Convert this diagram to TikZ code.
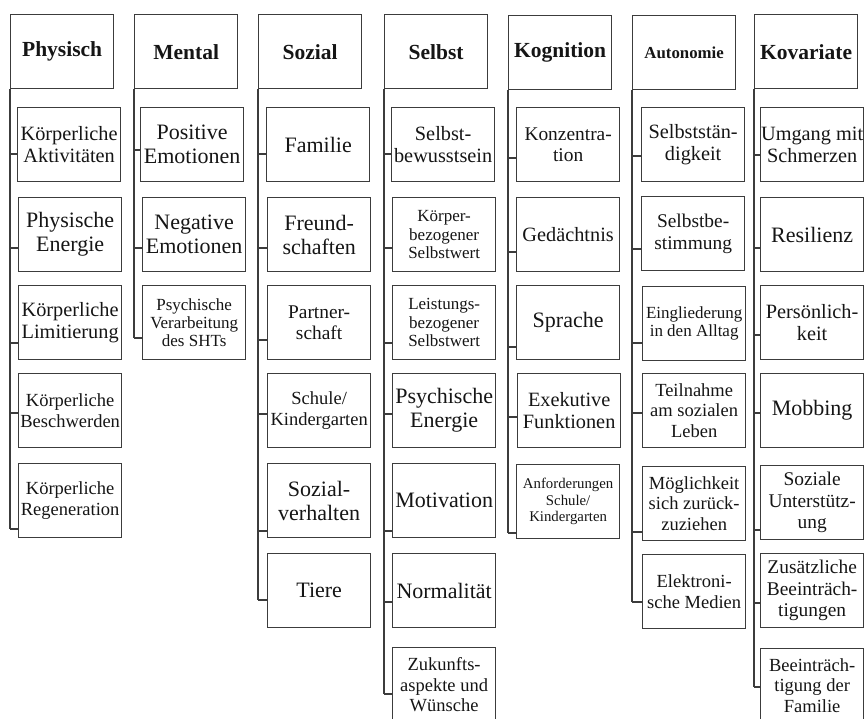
\documentclass[tikz,border=0pt]{standalone}
\usepackage{fontspec}
\setmainfont{Liberation Serif}
\definecolor{linecol}{HTML}{3C3C3C}
\definecolor{txt}{HTML}{151515}

% place a sub-box below a column header and connect it to the column trunk
% #1 name, #2 header, #3 x, #4 top y, #5 tick offset, #6 font style, #7 text
\newcommand\leafnode[7]{%
  \node[box,#6] (#1) at (#3,#4) {#7};
  \coordinate (#1t) at (#3,#4+#5);
  \draw[link] (#2.south west |- #1t) -- (#1.west |- #1t);
}

\begin{document}
\begin{tikzpicture}[x=1pt,y=-1pt,
  box/.style={draw=linecol, line width=1.3pt, minimum width=103pt,
    minimum height=74pt, inner sep=0pt, align=center, anchor=north west,
    text=txt},
  hdr/.style={box, font=\bfseries\fontsize{21.5}{24}\selectfont},
  link/.style={draw=linecol, line width=1.3pt},
  fA/.style={font=\fontsize{22}{24}\selectfont},
  fB/.style={font=\fontsize{20.3}{22.5}\selectfont},
  fC/.style={font=\fontsize{19.4}{21.5}\selectfont},
  fD/.style={font=\fontsize{18.5}{20.3}\selectfont},
  fE/.style={font=\fontsize{17}{18.4}\selectfont},
  fF/.style={font=\fontsize{14.8}{16.6}\selectfont}]
\useasboundingbox (0,0) rectangle (865,718);
\clip (0,0) rectangle (865,718);

% ---------- Physisch ----------
\node[hdr] (physisch) at (10,14) {Physisch};
\leafnode{p1}{physisch}{17}{107}{47}{fB}{Körperliche\\Aktivitäten}
\leafnode{p2}{physisch}{18}{197}{51}{fA}{Physische\\Energie}
\leafnode{p3}{physisch}{18}{285}{58}{fB}{Körperliche\\Limitierung}
\leafnode{p4}{physisch}{18}{373}{40}{fD}{Körperliche\\Beschwerden}
\leafnode{p5}{physisch}{18}{463}{66}{fD}{Körperliche\\Regeneration}
\draw[link] (physisch.south west) -- (physisch.south west |- p5t);

% ---------- Mental ----------
\node[hdr] (mental) at (134,14) {Mental};
\leafnode{m1}{mental}{140}{107}{43}{fA}{Positive\\Emotionen}
\leafnode{m2}{mental}{142}{197}{51}{fA}{Negative\\Emotionen}
\leafnode{m3}{mental}{142}{285}{53}{fE}{Psychische\\Verarbeitung\\des SHTs}
\draw[link] (mental.south west) -- (mental.south west |- m3t);

% ---------- Sozial ----------
\node[hdr] (sozial) at (258,14) {Sozial};
\leafnode{s1}{sozial}{266}{107}{47}{fA}{Familie}
\leafnode{s2}{sozial}{267}{197}{51}{fA}{Freund-\\schaften}
\leafnode{s3}{sozial}{267}{285}{55}{fC}{Partner-\\schaft}
\leafnode{s4}{sozial}{267}{373}{41}{fD}{Schule/\\Kindergarten}
\leafnode{s5}{sozial}{267}{463}{68}{fA}{Sozial-\\verhalten}
\leafnode{s6}{sozial}{267}{553}{47}{fA}{Tiere}
\draw[link] (sozial.south west) -- (sozial.south west |- s6t);

% ---------- Selbst ----------
\node[hdr] (selbst) at (384,14) {Selbst};
\leafnode{e1}{selbst}{391}{107}{47}{fB}{Selbst-\\bewusstsein}
\leafnode{e2}{selbst}{392}{197}{51}{fE}{Körper-\\bezogener\\Selbstwert}
\leafnode{e3}{selbst}{392}{285}{58}{fE}{Leistungs-\\bezogener\\Selbstwert}
\leafnode{e4}{selbst}{392}{373}{41}{fA}{Psychische\\Energie}
\leafnode{e5}{selbst}{392}{463}{68}{fA}{Motivation}
\leafnode{e6}{selbst}{392}{553}{49}{fA}{Normalität}
\leafnode{e7}{selbst}{392}{647}{47}{fD}{Zukunfts-\\aspekte und\\Wünsche}
\draw[link] (selbst.south west) -- (selbst.south west |- e7t);

% ---------- Kognition ----------
\node[hdr] (kognition) at (508,15) {Kognition};
\leafnode{k1}{kognition}{516}{107}{51}{fC}{Konzentra-\\tion}
\leafnode{k2}{kognition}{516}{197}{55}{fB}{Gedächtnis}
\leafnode{k3}{kognition}{516}{285}{62}{fA}{Sprache}
\leafnode{k4}{kognition}{517}{373}{44}{fB}{Exekutive\\Funktionen}
\leafnode{k5}{kognition}{516}{464}{69}{fF}{Anforderungen\\Schule/\\Kindergarten}
\draw[link] (kognition.south west) -- (kognition.south west |- k5t);

% ---------- Autonomie ----------
\node[hdr, font=\bfseries\fontsize{16.8}{19}\selectfont] (autonomie) at (632,15) {Autonomie};
\leafnode{a1}{autonomie}{641}{107}{49}{fB}{Selbststän-\\digkeit}
\leafnode{a2}{autonomie}{641}{196}{53}{fC}{Selbstbe-\\stimmung}
\leafnode{a3}{autonomie}{642}{286}{57}{fE}{Eingliederung\\in den Alltag}
\leafnode{a4}{autonomie}{642}{373}{40}{fD}{Teilnahme\\am sozialen\\Leben}
\leafnode{a5}{autonomie}{642}{466}{66}{fD}{Möglichkeit\\sich zurück-\\zuziehen}
\leafnode{a6}{autonomie}{642}{554}{48}{fD}{Elektroni-\\sche Medien}
\draw[link] (autonomie.south west) -- (autonomie.south west |- a6t);

% ---------- Kovariate ----------
\node[hdr] (kovariate) at (754,14) {Kovariate};
\leafnode{v1}{kovariate}{760}{107}{48}{fB}{Umgang mit\\Schmerzen}
\leafnode{v2}{kovariate}{760}{197}{51}{fA}{Resilienz}
\leafnode{v3}{kovariate}{760}{285}{50}{fB}{Persönlich-\\keit}
\leafnode{v4}{kovariate}{760}{373}{40}{fA}{Mobbing}
\leafnode{v5}{kovariate}{760}{465}{65}{fC}{Soziale\\Unterstütz-\\ung}
\leafnode{v6}{kovariate}{760}{553}{50}{fC}{Zusätzliche\\Beeinträch-\\tigungen}
\leafnode{v7}{kovariate}{760}{648}{39}{fD}{Beeinträch-\\tigung der\\Familie}
\draw[link] (kovariate.south west) -- (kovariate.south west |- v7t);
\end{tikzpicture}
\end{document}
